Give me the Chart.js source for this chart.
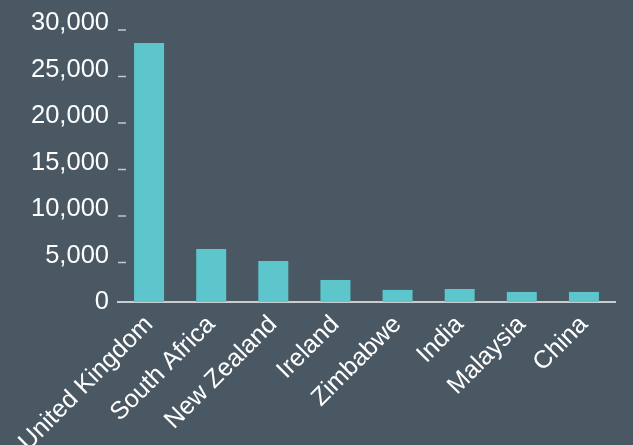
<!DOCTYPE html>
<html>
<head>
<meta charset="utf-8">
<script src="https://cdn.jsdelivr.net/npm/chart.js@4/dist/chart.umd.min.js"></script>
<style>
  html, body { margin: 0; padding: 0; background: #4a5864; }
  #wrap { width: 633px; height: 445px; position: relative; }
</style>
</head>
<body>
<div id="wrap"><canvas id="c" width="633" height="445"></canvas></div>
<script>
const categories = ["United Kingdom", "South Africa", "New Zealand", "Ireland", "Zimbabwe", "India", "Malaysia", "China"];
const values = [27850, 5700, 4400, 2370, 1300, 1400, 1080, 1080];
const yMin = 0, yMax = 30000, yStep = 5000;

const FONT = "'Liberation Sans', Arial, Helvetica, sans-serif";

const dashPlugin = {
  id: 'dashes',
  afterDraw(chart) {
    const ys = chart.scales.y;
    const ctx = chart.ctx;
    ctx.save();
    ctx.strokeStyle = '#c3c8cc';
    ctx.lineWidth = 1.5;
    ys.ticks.forEach(t => {
      if (t.value === 0) return;
      const y = ys.getPixelForValue(t.value) + 7;
      ctx.beginPath();
      ctx.moveTo(ys.right, y);
      ctx.lineTo(ys.right + 8, y);
      ctx.stroke();
    });
    ctx.restore();
  }
};

new Chart(document.getElementById('c'), {
  type: 'bar',
  data: {
    labels: categories,
    datasets: [{
      data: values,
      backgroundColor: '#5dc6cc',
      borderWidth: 0,
      barPercentage: 1,
      categoryPercentage: 0.483
    }]
  },
  options: {
    responsive: false,
    animation: false,
    layout: { padding: { top: 23, right: 18, left: 0, bottom: 0 } },
    plugins: { legend: { display: false }, tooltip: { enabled: false } },
    scales: {
      x: {
        grid: { display: false, drawTicks: false },
        border: { display: true, color: '#c8cdd1', width: 2 },
        ticks: {
          color: '#ffffff',
          font: { family: FONT, size: 25 },
          maxRotation: 45,
          minRotation: 45,
          padding: 8,
          autoSkip: false
        },
        afterFit(s) { s.height = 143; s.paddingLeft = 0; s.paddingRight = 0; }
      },
      y: {
        min: yMin,
        max: yMax,
        grid: { display: false, drawTicks: false },
        border: { display: false },
        ticks: {
          stepSize: yStep,
          color: '#ffffff',
          font: { family: FONT, size: 25.5 },
          padding: 9,
          callback: v => v.toLocaleString('en-US')
        },
        afterFit(s) { s.width = 118; s.paddingTop = 0; s.paddingBottom = 0; }
      }
    }
  },
  plugins: [dashPlugin]
});
</script>
</body>
</html>
